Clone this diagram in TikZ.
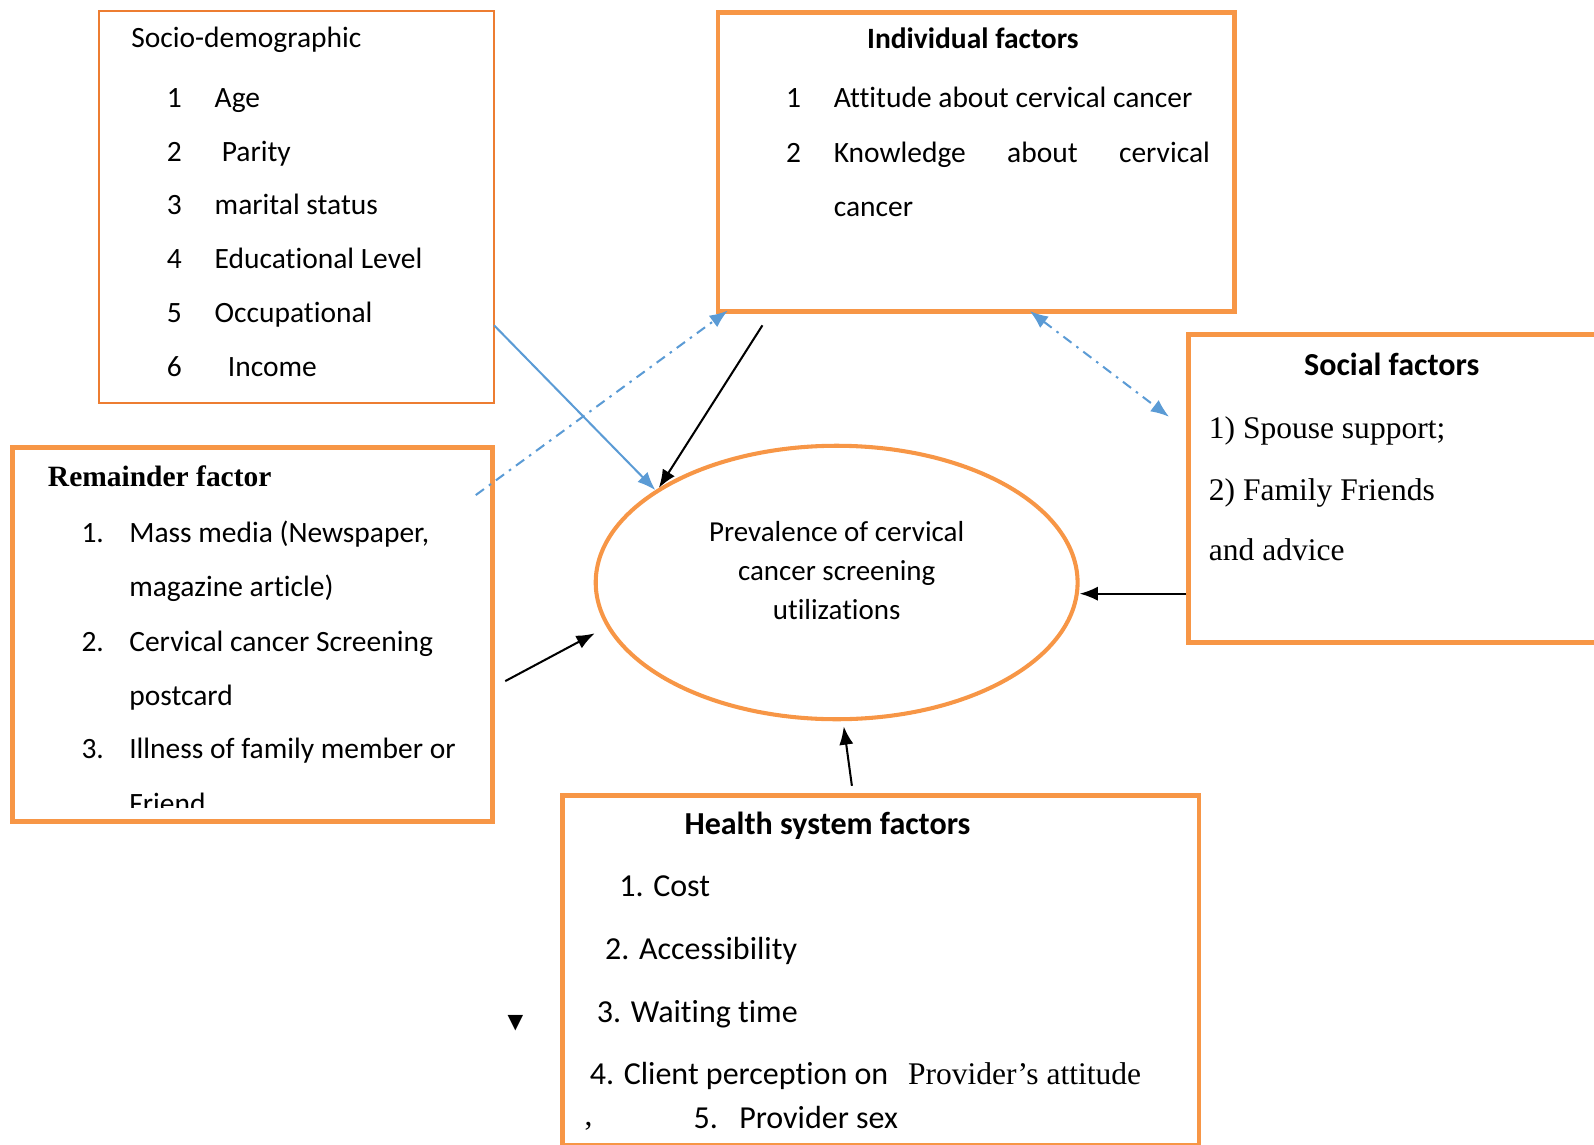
\documentclass[tikz,border=0pt]{standalone}
\usepackage{fontspec}
\setmainfont{Carlito}[Ligatures={NoCommon}]
\newfontfamily\timesfont{Liberation Serif}
\newfontfamily\symbolfont{DejaVu Sans}
\usetikzlibrary{positioning}
\usetikzlibrary{arrows.meta,shapes.geometric}
\usetikzlibrary{calc}
\definecolor{boxorange}{HTML}{F79646}
\definecolor{lineorange}{HTML}{ED7D31}
\definecolor{arrowblue}{HTML}{5B9BD5}
\tikzstyle{factorbox}=[rectangle,draw=boxorange,line width=4.5pt,anchor=north west,inner sep=0pt]
\tikzstyle{thinbox}=[rectangle,draw=lineorange,line width=2pt,anchor=north west,inner sep=0pt]
\tikzstyle{item}=[anchor=base west,inner sep=0pt,font=\fontsize{29}{35}\selectfont]
\tikzstyle{bigitem}=[anchor=base west,inner sep=0pt,font=\fontsize{31.5}{38}\selectfont]
\tikzstyle{serifitem}=[anchor=base west,inner sep=0pt,font=\fontsize{31}{37}\timesfont]
\tikzstyle{edge}=[draw,line width=2pt,-{Latex[length=18pt,width=14pt]}]
\tikzstyle{blueedge}=[edge,arrowblue]
\tikzstyle{dashdotedge}=[blueedge,dash pattern=on 10pt off 6pt on 2.5pt off 6pt]

\begin{document}
\begin{tikzpicture}[x=1pt,y=-1pt]
    \useasboundingbox (0,0) rectangle (1568,1126);

    % First we draw the boxes and the ellipse
    \node[thinbox,minimum width=389pt,minimum height=385pt] (socio) at (96,10) {};
    \node[factorbox,minimum width=508pt,minimum height=294pt] (ind) at (704,10) {};
    \node[factorbox,minimum width=403pt,minimum height=303pt] (social) at (1167,327) {};
    \node[factorbox,minimum width=472pt,minimum height=368pt] (rem) at (10,438) {};
    \node[factorbox,minimum width=626pt,minimum height=344pt] (health) at (551,780) {};
    \node[ellipse,draw=boxorange,line width=4pt,minimum width=474pt,minimum height=269pt,inner sep=0pt] (prev) at (823,573) {};

    % Socio-demographic
    \node[item] (sociotitle) at (129,47) {Socio-demographic};
    \foreach \y/\x/\num/\label in {106/211/1/Age, 159/218/2/Parity, 211/211/3/marital status, 264/211/4/Educational Level, 317/211/5/Occupational, 370/224/6/Income}
        \node[item] (socio\num) at (\x,\y) {\label};
    \foreach \y/\num in {106/1, 159/2, 211/3, 264/4, 317/5, 370/6}
        \node[item] (socionum\num) at (164,\y) {\num};

    % Individual factors
    \node[item,anchor=base,font=\fontsize{29}{35}\bfseries] (indtitle) at (957,48) {Individual factors};
    \node[item] (indnum1) at (773,106) {1};
    \node[item] (ind1) at (820,106) {Attitude about cervical cancer};
    \node[item] (indnum2) at (773,160) {2};
    \node[item] (ind2) at (820,160) {\makebox[370pt][s]{Knowledge\hfill about\hfill cervical}};
    \node[item] (ind2b) at (820,213) {cancer};

    % Social factors
    \node[bigitem,anchor=base,font=\fontsize{31.5}{38}\bfseries] (socialtitle) at (1369,369) {Social factors};
    \foreach \y/\name/\label in {431/social1/{1) Spouse support;}, 492/social2/{2) Family Friends}, 551/social3/{and advice}}
        \node[serifitem] (\name) at (1189,\y) {\label};

    % Remainder factor (last line cut by the box)
    \node[item,font=\fontsize{29}{35}\timesfont\bfseries] (remtitle) at (47,479) {Remainder factor};
    \begin{scope}
    \clip (10,438) rectangle (482,794);
    \foreach \y/\name/\label in {534/rem1/{Mass media (Newspaper,}, 587/rem1b/{magazine article)}, 641/rem2/{Cervical cancer Screening}, 694/rem2b/{postcard}, 746/rem3/{Illness of family member or}, 800/rem3b/{Friend}}
        \node[item] (\name) at (127,\y) {\label};
    \foreach \y/\num in {534/1, 641/2, 746/3}
        \node[item] (remnum\num) at (80,\y) {\num.};
    \end{scope}

    % Prevalence
    \foreach \y/\name/\label in {533/prev1/{Prevalence of cervical}, 571/prev2/{cancer screening}, 609/prev3/{utilizations}}
        \node[item,anchor=base,font=\fontsize{28.5}{34}\selectfont] (\name) at (823,\y) {\label};

    % Health system factors
    \node[bigitem,anchor=base,font=\fontsize{31.5}{38}\bfseries] (healthtitle) at (814,821) {Health system factors};
    \node[bigitem] (health1) at (609,882) {1. Cost};
    \node[bigitem] (health2) at (595,944) {2. Accessibility};
    \node[bigitem] (health3) at (587,1006) {3. Waiting time};
    \node[bigitem] (health4) at (580,1067) {4. Client perception on};
    \node[serifitem] (health4b) at (893,1067) {Provider’s attitude};
    \node[serifitem] (comma) at (575,1107) {,};
    \node[bigitem] (health5) at (682,1110) {5.};
    \node[bigitem] (health5b) at (727,1110) {Provider sex};

    \node[font=\fontsize{20}{20}\symbolfont,inner sep=0pt] (mark) at (507,1007) {▼};

    % Connect the factors with the ellipse
    \coordinate (sociotail) at (486,320);
    \coordinate (indtail) at (750,320);
    \coordinate (remtail) at (468,487);
    \coordinate (remtail2) at (497,670);
    \coordinate (remtip) at (585,623);
    \coordinate (indfoot) at (1013,306);
    \coordinate (socialtip) at (1150,410);

    \path[blueedge] (sociotail) -- (prev.153);
    \path[edge] (indtail) -- (prev.152);
    \path[dashdotedge] (remtail) -- ([xshift=12pt,yshift=3pt]ind.south west);
    \path[dashdotedge,{Latex[length=18pt,width=14pt]}-{Latex[length=18pt,width=14pt]}] (indfoot) -- (socialtip);
    \path[edge] (remtail2) -- (remtip);
    \path[edge] ($(social.north west)+(0,257)$) -- ($(prev.east)+(0,11)$);
    \path[edge] ($(health.north west)+(287,-7)$) -- ($(prev.south)+(7,5)$);

\end{tikzpicture}
\end{document}
